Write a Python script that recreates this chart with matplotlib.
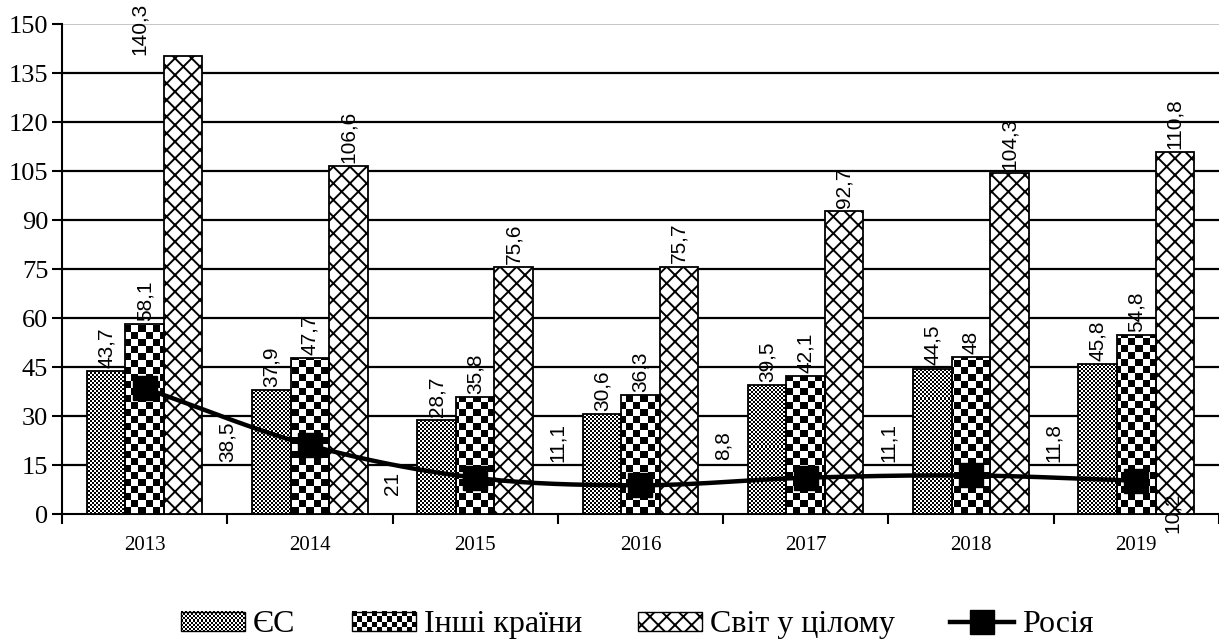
import numpy as np
import matplotlib
matplotlib.use("Agg")
import matplotlib.pyplot as plt
from matplotlib.patches import Patch, Rectangle
from matplotlib.lines import Line2D
from matplotlib.legend_handler import HandlerBase
from matplotlib.image import BboxImage
from matplotlib.transforms import Bbox, TransformedBbox
from matplotlib.colors import Normalize

years = ["2013", "2014", "2015", "2016", "2017", "2018", "2019"]
eu = [43.7, 37.9, 28.7, 30.6, 39.5, 44.5, 45.8]
other = [58.1, 47.7, 35.8, 36.3, 42.1, 48.0, 54.8]
world = [140.3, 106.6, 75.6, 75.7, 92.7, 104.3, 110.8]
russia = [38.5, 21.0, 11.1, 8.8, 11.1, 11.8, 10.2]
series_names = ["ЄС", "Інші країни", "Світ у цілому", "Росія"]

# manual label placement for the Russia labels (x offset in category units, y in data units)
russia_label_dx = [0.5, 0.5, 0.5, 0.5, 0.5, 0.5, 0.22]
russia_label_y = [22.0, 9.5, 22.0, 21.0, 22.0, 22.0, 0.5]

def fmt(v):
    s = ("%.1f" % v).rstrip("0").rstrip(".")
    return s.replace(".", ",")

def catmull_rom(x, y, n=30):
    x = np.asarray(x, float); y = np.asarray(y, float)
    px = np.concatenate([[2 * x[0] - x[1]], x, [2 * x[-1] - x[-2]]])
    py = np.concatenate([[2 * y[0] - y[1]], y, [2 * y[-1] - y[-2]]])
    xs, ys = [], []
    for i in range(1, len(px) - 2):
        p0, p1, p2, p3 = (np.array([px[j], py[j]]) for j in (i - 1, i, i + 1, i + 2))
        c1 = p1 + (p2 - p0) / 6.0
        c2 = p2 - (p3 - p1) / 6.0
        t = np.linspace(0, 1, n)[:, None]
        b = ((1 - t) ** 3) * p1 + 3 * ((1 - t) ** 2) * t * c1 + 3 * (1 - t) * t ** 2 * c2 + t ** 3 * p2
        xs.append(b[:, 0]); ys.append(b[:, 1])
    return np.concatenate(xs), np.concatenate(ys)

def checker(h, w, cell):
    i = np.arange(h)[:, None] // cell
    j = np.arange(w)[None, :] // cell
    return ((i + j) % 2).astype(float)

plt.rcParams['hatch.linewidth'] = 1.4
serif = ["Liberation Serif", "DejaVu Serif"]
sans = ["Liberation Sans", "DejaVu Sans"]

W, H, DPI = 12.19, 6.39, 100
fig = plt.figure(figsize=(W, H), dpi=DPI)
ax_rect = [0.0509, 0.1956, 0.949, 0.7668]
ax = fig.add_axes(ax_rect)
ax_wpx = int(round(ax_rect[2] * W * DPI))
ax_hpx = int(round(ax_rect[3] * H * DPI))

x = np.arange(len(years))
w = 0.233
xlim = (-0.5, -0.5 + 1157 / 166)
ylim = (0, 150)

pat_eu = checker(ax_hpx, ax_wpx, 2)
pat_oth = checker(ax_hpx, ax_wpx, 7)

def patterned_bars(xpos, vals, pattern):
    bars = ax.bar(xpos, vals, w, facecolor="none", edgecolor="black", linewidth=1.3, zorder=3.1)
    for b in bars:
        im = ax.imshow(pattern, cmap="gray", vmin=0, vmax=1, extent=(xlim[0], xlim[1], ylim[0], ylim[1]),
                       aspect="auto", interpolation="nearest", origin="upper", zorder=3)
        im.set_clip_path(b)
    return bars

patterned_bars(x - w, eu, pat_eu)
patterned_bars(x, other, pat_oth)
ax.bar(x + w, world, w, facecolor="white", edgecolor="black", hatch="xx", linewidth=1.3, zorder=3)

for vals, off in ((eu, -w), (other, 0), (world, w)):
    for xi, v in zip(x, vals):
        if v + 16 > ylim[1]:
            # label does not fit above the bar: pushed left and down from the top edge
            ax.text(xi - 0.03, ylim[1] + 6.5, fmt(v), rotation=90, ha="center", va="top",
                    fontsize=15, family=sans, zorder=5, clip_on=False)
        else:
            ax.text(xi + off, v + 1.0, fmt(v), rotation=90, ha="center", va="bottom",
                    fontsize=15, family=sans, zorder=5)

sx, sy = catmull_rom(x, russia)
ax.plot(sx, sy, color="black", lw=3.2, zorder=4, solid_capstyle="butt")
ax.plot(x, russia, ls="none", marker="s", ms=17, color="black", zorder=4.5)
for xi, v, dx, ly in zip(x, russia, russia_label_dx, russia_label_y):
    ax.text(xi + dx, ly, fmt(v), rotation=90, ha="center", va="center",
            fontsize=15, family=sans, zorder=5)

ax.set_xlim(*xlim)
ax.set_ylim(*ylim)
ax.set_yticks(np.arange(0, 151, 15))
ax.set_yticklabels([str(v) for v in range(0, 151, 15)], family=serif, fontsize=19)
for v in range(15, 150, 15):
    ax.axhline(v, color="black", lw=1.6, zorder=1)
ax.axhline(150, color="#bbbbbb", lw=1.2, zorder=1)

ax.set_xticks(np.arange(-0.5, 7, 1))
ax.set_xticklabels([])
ax.set_xticks(x, minor=True)
ax.set_xticklabels(years, minor=True, family=serif, fontsize=15)
ax.tick_params(axis="x", which="minor", length=0, pad=16)
ax.tick_params(axis="x", which="major", length=7, width=1.5, direction="out")
ax.tick_params(axis="y", length=7, width=1.5, direction="out", pad=3)

for s in ("top", "right"):
    ax.spines[s].set_visible(False)
ax.spines["left"].set_linewidth(1.5)
ax.spines["bottom"].set_linewidth(1.5)


class PatternHandler(HandlerBase):
    def __init__(self, cell):
        super().__init__()
        self.cell = cell

    def create_artists(self, legend, orig_handle, xdescent, ydescent, width, height, fontsize, trans):
        bb = TransformedBbox(Bbox.from_bounds(-xdescent, -ydescent, width, height), trans)
        img = BboxImage(bb, cmap="gray", norm=Normalize(0, 1), interpolation="nearest")
        wpx = max(int(round(width * DPI / 72)), 2)
        hpx = max(int(round(height * DPI / 72)), 2)
        img.set_data(checker(hpx, wpx, self.cell))
        rect = Rectangle((-xdescent, -ydescent), width, height, facecolor="none",
                         edgecolor="black", lw=1.0, transform=trans)
        return [img, rect]


h_eu = Patch(facecolor="white")
h_oth = Patch(facecolor="black")
h_w = Patch(facecolor="white", edgecolor="black", hatch="xx", linewidth=1.0)
h_ru = Line2D([], [], color="black", lw=3.2, marker="s", ms=17)
fig.legend([h_eu, h_oth, h_w, h_ru], series_names, loc="center", bbox_to_anchor=(0.523, 0.022),
           ncol=4, frameon=False, prop={"family": serif, "size": 23},
           handlelength=2.0, handleheight=0.55, columnspacing=1.75, handletextpad=0.25,
           handler_map={h_eu: PatternHandler(2), h_oth: PatternHandler(5)})

fig.savefig("out.png", dpi=DPI)
